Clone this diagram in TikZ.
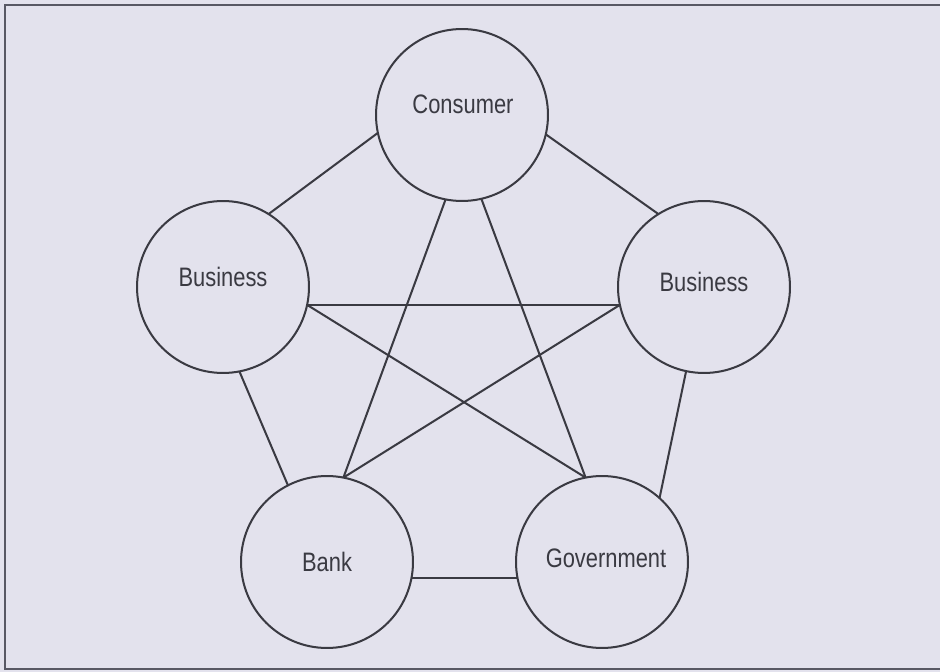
\documentclass[tikz,border=0pt]{standalone}
\usepackage{fontspec}
\setmainfont{Liberation Sans}[FakeStretch=0.82]
\definecolor{paper}{RGB}{227,226,237}
\definecolor{ink}{RGB}{58,58,66}
\definecolor{frame}{RGB}{88,88,100}
\begin{document}
\begin{tikzpicture}[x=0.02cm,y=-0.02cm,
  party/.style={circle,draw=ink,line width=1.15pt,minimum size=3.44cm,inner sep=0pt,outer sep=0pt},
  tag/.style={inner sep=0pt,text=ink,font=\fontsize{15.2pt}{17pt}\selectfont},
  tie/.style={draw=ink,line width=1.15pt}]
  % page and frame
  \fill[paper] (0,0) rectangle (940,672);
  \useasboundingbox (0,0) rectangle (940,672);
  \draw[frame,line width=1.3pt] (940,5) -- (5,5) -- (5,669) -- (940,669);

  % the five parties
  \node[party] (cons) at (462,115) {};
  \node[party] (busl) at (223,287) {};
  \node[party] (busr) at (704,287) {};
  \node[party] (bank) at (327,562) {};
  \node[party] (gov)  at (602,562) {};

  \node[tag] (cons-t) at (463,104) {Consumer};
  \node[tag] (busl-t) at (223,277) {Business};
  \node[tag] (busr-t) at (704,282) {Business};
  \node[tag] (bank-t) at (327,562) {Bank};
  \node[tag] (gov-t)  at (606,558) {Government};

  % outer ring
  \draw[tie] (cons.192) -- (busl.58);
  \draw[tie] (cons.347) -- (busr.122);
  \draw[tie] (busl.281) -- (bank.117);
  \draw[tie] (busr.258) -- (gov.48);
  \draw[tie] (bank.349) -- (gov.191);

  % inner star
  \draw[tie] (cons.259) -- (bank.79);
  \draw[tie] (cons.283) -- (gov.101);
  \draw[tie] (busl.348) -- (busr.192);
  \draw[tie] (busl.348) -- (gov.101);
  \draw[tie] (busr.192) -- (bank.79);
\end{tikzpicture}
\end{document}
